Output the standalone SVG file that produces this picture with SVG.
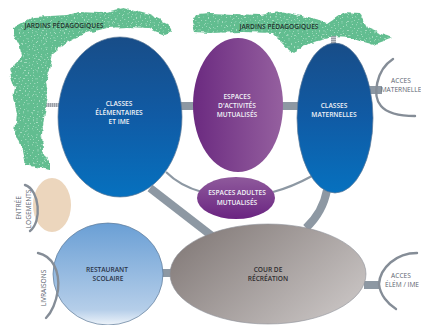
<svg xmlns="http://www.w3.org/2000/svg" width="421" height="325" viewBox="0 0 421 325">
<style>
.t{font-family:"Open Sans","Liberation Sans",sans-serif;font-size:6.6px;font-weight:600;text-anchor:middle}
.w{fill:#f2f4f8}.d{fill:#2a3347}.g{fill:#5d6470;font-weight:400}
.link{stroke:#8d98a3;fill:none}
.arc{stroke:#858d97;stroke-width:2.4;fill:none;stroke-linecap:round}
.stroke{stroke:#5b7896;stroke-width:.7}
.garden{fill:url(#speck);filter:url(#rough)}
</style>
<defs>
<linearGradient id="blue" x1="0" y1="0" x2="0" y2="1"><stop offset="0" stop-color="#184d88"/><stop offset=".5" stop-color="#105ba5"/><stop offset="1" stop-color="#0671bf"/></linearGradient>
<linearGradient id="purple" x1="0" y1="0" x2="1" y2="0"><stop offset="0" stop-color="#6b2a80"/><stop offset="1" stop-color="#95609f"/></linearGradient>
<linearGradient id="purple2" x1="0" y1="0" x2="0" y2="1"><stop offset="0" stop-color="#8f5a9c"/><stop offset="1" stop-color="#6a2481"/></linearGradient>
<linearGradient id="sky" x1="0" y1="0" x2="0" y2="1"><stop offset="0" stop-color="#6a9fd5"/><stop offset=".85" stop-color="#b5cee9"/><stop offset="1" stop-color="#eef4fa"/></linearGradient>
<linearGradient id="grey" x1="0" y1="0" x2="1" y2=".6"><stop offset="0" stop-color="#7d7472"/><stop offset="1" stop-color="#c4bfbe"/></linearGradient>
<pattern id="speck" width="9" height="8" patternUnits="userSpaceOnUse">
<rect width="9" height="8" fill="#62bd90"/>
<g fill="#b4e3ca"><circle cx="1.500" cy="1.500" r=".6"/><circle cx="5.500" cy=".8" r=".5"/><circle cx="7.800" cy="3.500" r=".6"/><circle cx="3.500" cy="4.500" r=".5"/><circle cx="6.500" cy="6.500" r=".5"/><circle cx="1" cy="6.800" r=".6"/></g>
</pattern>
<pattern id="hatch" width="2" height="2" patternUnits="userSpaceOnUse"><rect width="2" height="2" fill="#c4c7cc"/><rect width="1" height="2" fill="#9a9ea6"/></pattern>
<pattern id="hatchH" width="2" height="2" patternUnits="userSpaceOnUse"><rect width="2" height="2" fill="#c4c7cc"/><rect width="2" height="1" fill="#9a9ea6"/></pattern>
<filter id="rough" x="-5%" y="-5%" width="110%" height="110%" color-interpolation-filters="sRGB"><feTurbulence type="fractalNoise" baseFrequency=".12" numOctaves="2" seed="4" result="n"/><feDisplacementMap in="SourceGraphic" in2="n" scale="5" xChannelSelector="R" yChannelSelector="G"/><feGaussianBlur stdDeviation=".4"/></filter>
</defs>
<g id="connectors">
<rect x="38" y="103" width="22" height="4" fill="url(#hatch)"/>
<rect x="331" y="29" width="5" height="15" fill="url(#hatchH)"/>
<path class="link" stroke-width="8" d="M178 106H196"/>
<path class="link" stroke-width="8" d="M280 106H300"/>
<path class="link" stroke-width="8" d="M369 90H382"/>
<path class="link" stroke-width="8" d="M150 188L212 236"/>
<path class="link" stroke-width="8" d="M327 190Q323 212 306 228"/>
<path class="link" stroke-width="8" d="M160 273H175"/>
<path class="link" stroke-width="8" d="M364 285H380"/>
<path class="link" stroke-width="2.200" d="M166 172Q180 186 202 192"/>
<path class="link" stroke-width="2.200" d="M273 192Q292 187 312 176"/>
</g>
<g id="jardin-1">
<path class="garden" d="M13 28L33 17L67 15L80 12L100 13L123 8L150 15L167 23L172 32L165 35L147 28L127 27L107 28L87 33L67 42L53 53L50 70L45 83L48 97L45 113L42 133L43 150L50 163L50 170L25 165L22 150L15 133L17 113L13 97L15 88L9 70L22 57L20 47L13 33Z"/>
<text class="t" x="64" y="28" fill="#24322c">JARDINS PÉDAGOGIQUES</text>
</g>
<g id="jardin-2">
<path class="garden" d="M192 22L197 14L210 13L260 15L280 12L297 15L327 23L343 12L360 13L367 28L392 38L373 45L350 38L333 37L310 43L292 53L282 42L273 33L243 32L210 33L195 32Z"/>
<text class="t" x="279" y="29" fill="#24322c">JARDINS PÉDAGOGIQUES</text>
</g>
<g id="entree-logements">
<ellipse cx="52" cy="205" rx="19" ry="27" fill="#ecd6bd"/>
<path class="arc" d="M25 185C40 190 42 222 30 231"/>
<text class="t g" transform="translate(21 208) rotate(-90)">ENTRÉE</text>
<text class="t g" transform="translate(31 209) rotate(-90)">LOGEMENTS</text>
</g>
<g id="classes-elementaires">
<ellipse class="stroke" cx="120" cy="117" rx="62" ry="80" fill="url(#blue)"/>
<text class="t w" x="119" y="106">CLASSES</text><text class="t w" x="119" y="115">ÉLÉMENTAIRES</text><text class="t w" x="119" y="124">ET IME</text>
</g>
<g id="espaces-activites">
<ellipse cx="238" cy="105" rx="45" ry="67" fill="url(#purple)"/>
<text class="t w" x="237" y="99">ESPACES</text><text class="t w" x="237" y="108">D'ACTIVITÉS</text><text class="t w" x="237" y="117">MUTUALISÉS</text>
</g>
<g id="classes-maternelles">
<ellipse class="stroke" cx="335" cy="118" rx="38" ry="75" fill="url(#blue)"/>
<text class="t w" x="334" y="108">CLASSES</text><text class="t w" x="334" y="117">MATERNELLES</text>
</g>
<g id="acces-maternelle">
<path class="arc" d="M393 59C376 70 372 96 381 106C386 112 396 116 415 116"/>
<text class="t g" x="401" y="83">ACCES</text><text class="t g" x="401" y="92">MATERNELLE</text>
</g>
<g id="espaces-adultes">
<ellipse cx="236" cy="198" rx="39" ry="21" fill="url(#purple2)"/>
<text class="t w" x="237" y="195">ESPACES ADULTES</text><text class="t w" x="237" y="205">MUTUALISÉS</text>
</g>
<g id="restaurant">
<ellipse class="stroke" cx="108" cy="274" rx="55" ry="51" fill="url(#sky)"/>
<text class="t d" x="107" y="272">RESTAURANT</text><text class="t d" x="108" y="281">SCOLAIRE</text>
</g>
<g id="livraisons">
<path class="arc" d="M38 253C52 256 60 270 58 290C56 302 52 312 46 318"/>
<text class="t g" transform="translate(46 288) rotate(-90)">LIVRAISONS</text>
</g>
<g id="cour">
<ellipse cx="268" cy="274" rx="98" ry="50" fill="url(#grey)" stroke="#8d9199" stroke-width=".6"/>
<text class="t" fill="#2f2c2e" x="268" y="272">COUR DE</text><text class="t" fill="#2f2c2e" x="268" y="281">RÉCRÉATION</text>
</g>
<g id="acces-elem">
<path class="arc" d="M417 253C396 253 380 268 379 284C380 295 388 304 396 309"/>
<text class="t g" x="401" y="278">ACCES</text><text class="t g" x="402" y="287">ÉLÉM / IME</text>
</g>
</svg>
